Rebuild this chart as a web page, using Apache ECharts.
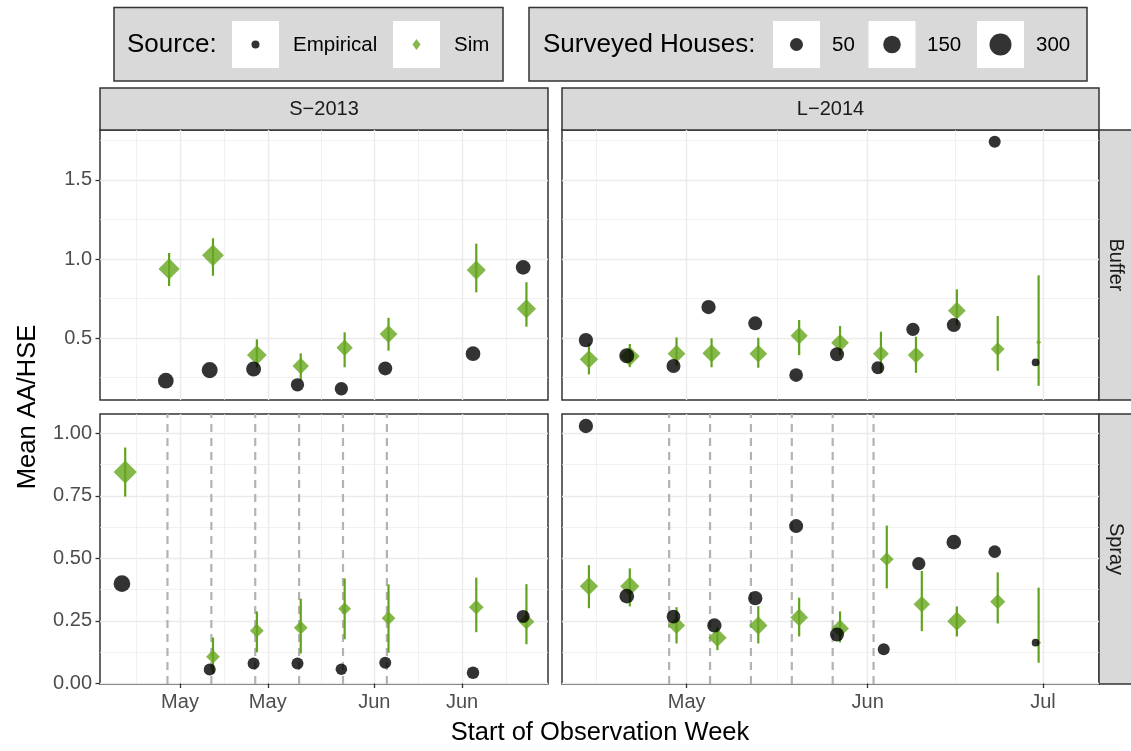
<!DOCTYPE html>
<html><head><meta charset="utf-8">
<script src="https://cdn.jsdelivr.net/npm/echarts@6/dist/echarts.min.js"></script>
<style>html,body{margin:0;padding:0;background:#fff}#c{width:1131px;height:751px}</style>
</head><body><div id="c"></div>
<script>
// ---------------- DATA ----------------
const columnNames = ['S\u22122013', 'L\u22122014'];
const rowNames = ['Buffer', 'Spray'];

// S-2013, Buffer
const s13BufDates = ['2013-04-29','2013-05-06','2013-05-13','2013-05-20','2013-05-27','2013-06-03','2013-06-17','2013-06-25'];
const s13BufEmp   = [0.230,0.297,0.304,0.204,0.179,0.308,0.401,0.947];
const s13BufSim   = [0.937,1.023,0.392,0.323,0.439,0.525,0.930,0.685];
const s13BufSimLo = [0.829,0.894,0.315,0.234,0.315,0.420,0.789,0.572];
const s13BufSimHi = [1.038,1.131,0.492,0.403,0.536,0.628,1.097,0.853];
const s13BufHouses = [103,110,87,55,55,67,81,81];

// S-2013, Spray
const s13SprDates = ['2013-04-22','2013-05-06','2013-05-13','2013-05-20','2013-05-27','2013-06-03','2013-06-17','2013-06-25'];
const s13SprEmp   = [0.399,0.056,0.080,0.080,0.057,0.083,0.043,0.268];
const s13SprSim   = [0.845,0.107,0.211,0.223,0.299,0.261,0.305,0.247];
const s13SprSimLo = [0.747,0.040,0.125,0.120,0.177,0.123,0.205,0.157];
const s13SprSimHi = [0.943,0.184,0.288,0.339,0.420,0.396,0.423,0.397];
const s13SprHouses = [127,35,35,35,29,35,42,50];
const s13SprayWeeks = ['2013-04-29','2013-05-06','2013-05-13','2013-05-20','2013-05-27','2013-06-03'];

// L-2014, Buffer
const l14BufDates = ['2014-04-14','2014-04-21','2014-04-29','2014-05-05','2014-05-13','2014-05-20','2014-05-27','2014-06-03','2014-06-09','2014-06-16','2014-06-23','2014-06-30'];
const l14BufEmp   = [0.487,0.388,0.323,0.696,0.593,0.266,0.397,0.312,0.555,0.582,1.742,0.346];
const l14BufSim   = [0.365,0.384,0.401,0.403,0.401,0.515,0.470,0.401,0.392,0.673,0.430,0.473];
const l14BufSimLo = [0.270,0.316,0.325,0.315,0.312,0.392,0.390,0.280,0.280,0.580,0.293,0.198];
const l14BufSimHi = [0.466,0.462,0.504,0.498,0.502,0.614,0.576,0.540,0.508,0.808,0.639,0.897];
const l14BufHouses = [73,87,67,73,67,62,67,50,55,67,35,1];

// L-2014, Spray
const l14SprDates = ['2014-04-14','2014-04-21','2014-04-29','2014-05-06','2014-05-13','2014-05-20','2014-05-27','2014-06-04','2014-06-10','2014-06-16','2014-06-23','2014-06-30'];
const l14SprEmp   = [1.029,0.349,0.267,0.232,0.341,0.629,0.196,0.137,0.479,0.565,0.527,0.163];
const l14SprSim   = [0.389,0.389,0.232,0.183,0.232,0.264,0.220,0.497,0.317,0.249,0.327,0.163];
const l14SprSimLo = [0.301,0.308,0.160,0.133,0.160,0.188,0.164,0.380,0.209,0.188,0.240,0.083];
const l14SprSimHi = [0.473,0.460,0.305,0.225,0.309,0.343,0.288,0.631,0.450,0.308,0.444,0.383];
const l14SprHouses = [73,81,62,73,73,67,67,35,55,81,45,1];
const l14SprayWeeks = ['2014-04-28','2014-05-05','2014-05-12','2014-05-19','2014-05-26','2014-06-02'];

// axes (x in day-of-year)
const s13XRange = [108.24, 179.7];
const l14XRange = [99.65, 191.6];
const s13XTicks = ['2013-05-01','2013-05-15','2013-06-01','2013-06-15'];
const s13XTickLabels = ['May','May','Jun','Jun'];
const l14XTicks = ['2014-05-01','2014-06-01','2014-07-01'];
const l14XTickLabels = ['May','Jun','Jul'];
const bufYRange = [0.108, 1.816];
const bufYTicks = [0.5, 1.0, 1.5];
const bufYTickLabels = ['0.5','1.0','1.5'];
const sprYRange = [-0.002, 1.077];
const sprYTicks = [0, 0.25, 0.5, 0.75, 1.0];
const sprYTickLabels = ['0.00','0.25','0.50','0.75','1.00'];

const legendHouses = [50, 150, 300];
const legendSources = ['Empirical', 'Sim'];

// ---------------- BUILD ----------------
const FONT = '"Liberation Sans", Arial, Helvetica, sans-serif';
const GREEN = '#66A61E';
const BAR_GREEN = '#60A31C';
const DODGE = 0.26;
function doy(s){ const d = new Date(s + 'T00:00:00Z'); return (d - Date.UTC(d.getUTCFullYear(),0,1))/86400000 + 1; }
function circleD(n){ return 6.8 + 0.878*Math.sqrt(n); }
function diamondD(n){ return 2.0*(circleD(n) - 5.1); }
function mids(t, r){
  const out = [t[0] - (t[1]-t[0])/2];
  for (let i=0;i<t.length-1;i++) out.push((t[i]+t[i+1])/2);
  out.push(t[t.length-1] + (t[t.length-1]-t[t.length-2])/2);
  return out.filter(v => v > r[0] && v < r[1]);
}

const panels = [
  {col:0,row:0,dates:s13BufDates,emp:s13BufEmp,sim:s13BufSim,lo:s13BufSimLo,hi:s13BufSimHi,n:s13BufHouses,spray:[]},
  {col:1,row:0,dates:l14BufDates,emp:l14BufEmp,sim:l14BufSim,lo:l14BufSimLo,hi:l14BufSimHi,n:l14BufHouses,spray:[]},
  {col:0,row:1,dates:s13SprDates,emp:s13SprEmp,sim:s13SprSim,lo:s13SprSimLo,hi:s13SprSimHi,n:s13SprHouses,spray:s13SprayWeeks},
  {col:1,row:1,dates:l14SprDates,emp:l14SprEmp,sim:l14SprSim,lo:l14SprSimLo,hi:l14SprSimHi,n:l14SprHouses,spray:l14SprayWeeks}
];
const colLayout = [{left:100,width:448},{left:562,width:537}];
const rowLayout = [{top:130,height:270},{top:414,height:270}];
const colX = [
  {range:s13XRange, ticks:s13XTicks.map(doy), labels:s13XTickLabels},
  {range:l14XRange, ticks:l14XTicks.map(doy), labels:l14XTickLabels}
];
const rowY = [
  {range:bufYRange, ticks:bufYTicks, labels:bufYTickLabels},
  {range:sprYRange, ticks:sprYTicks, labels:sprYTickLabels}
];

const grid = [], xAxis = [], yAxis = [], series = [];
const tickStyle = {color:'#333333', width:1.3};
const majorGrid = {color:'#ebebeb', width:1.4};
const minorGrid = {color:'#ebebeb', width:0.7};

panels.forEach((p, i) => {
  const cl = colLayout[p.col], rl = rowLayout[p.row];
  grid.push({left:cl.left, top:rl.top, width:cl.width, height:rl.height, show:true,
    backgroundColor:'#ffffff', borderColor:'#333333', borderWidth:1.5});
  const cx = colX[p.col], ry = rowY[p.row];
  const bottom = p.row === 1, leftCol = p.col === 0;
  xAxis.push({type:'value', gridIndex:i, min:cx.range[0], max:cx.range[1],
    axisLine:{show:false},
    axisTick:{show:bottom, customValues:cx.ticks, length:4.5, lineStyle:tickStyle},
    axisLabel:{show:bottom, customValues:cx.ticks, margin:8, color:'#4d4d4d', fontSize:20, fontFamily:FONT,
      formatter: v => cx.labels[cx.ticks.indexOf(v)]},
    splitLine:{show:true, lineStyle:majorGrid}});
  xAxis.push({type:'value', gridIndex:i, min:cx.range[0], max:cx.range[1],
    axisLine:{show:false}, axisTick:{show:false, customValues:mids(cx.ticks, cx.range)},
    axisLabel:{show:false, customValues:mids(cx.ticks, cx.range)},
    splitLine:{show:true, lineStyle:minorGrid}});
  yAxis.push({type:'value', gridIndex:i, min:ry.range[0], max:ry.range[1],
    axisLine:{show:false},
    axisTick:{show:leftCol, customValues:ry.ticks, length:4.5, lineStyle:tickStyle},
    axisLabel:{show:leftCol, customValues:ry.ticks, margin:8, color:'#4d4d4d', fontSize:20, fontFamily:FONT,
      formatter: v => ry.labels[ry.ticks.indexOf(v)]},
    splitLine:{show:true, lineStyle:majorGrid}});
  yAxis.push({type:'value', gridIndex:i, min:ry.range[0], max:ry.range[1],
    axisLine:{show:false}, axisTick:{show:false, customValues:mids(ry.ticks, ry.range)},
    axisLabel:{show:false, customValues:mids(ry.ticks, ry.range)},
    splitLine:{show:true, lineStyle:minorGrid}});
  const xi = 2*i, yi = 2*i;
  if (p.spray.length) {
    series.push({type:'custom', xAxisIndex:xi, yAxisIndex:yi, z:1, silent:true,
      data: p.spray.map(d => [doy(d), 0.5]), encode:{x:0, y:1},
      renderItem: (params, api) => {
        const cs = params.coordSys;
        const x = api.coord([api.value(0), api.value(1)])[0];
        return {type:'line', shape:{x1:x, y1:cs.y+cs.height, x2:x, y2:cs.y},
          style:{stroke:'#b3b3b3', lineWidth:2.2, lineDash:[8,6]}};
      }});
  }
  series.push({type:'custom', xAxisIndex:xi, yAxisIndex:yi, z:2, silent:true,
    data: p.dates.map((d,k) => [doy(d)+DODGE, p.lo[k], p.hi[k]]), encode:{x:0, y:[1,2]},
    renderItem: (params, api) => {
      const x = api.value(0);
      const a = api.coord([x, api.value(1)]), b = api.coord([x, api.value(2)]);
      return {type:'line', shape:{x1:a[0], y1:a[1], x2:b[0], y2:b[1]},
        style:{stroke:BAR_GREEN, lineWidth:2.2}};
    }});
  series.push({type:'scatter', name:'Sim', xAxisIndex:xi, yAxisIndex:yi, z:3, silent:true,
    symbol:'diamond', data: p.dates.map((d,k) => [doy(d)+DODGE, p.sim[k], p.n[k]]),
    symbolSize: v => diamondD(v[2]), itemStyle:{color:GREEN, opacity:0.8}});
  series.push({type:'scatter', name:'Empirical', xAxisIndex:xi, yAxisIndex:yi, z:4, silent:true,
    symbol:'circle', data: p.dates.map((d,k) => [doy(d)-DODGE, p.emp[k], p.n[k]]),
    symbolSize: v => circleD(v[2]), itemStyle:{color:'#000000', opacity:0.8}});
});

function txt(x, y, s, size, opts){
  return Object.assign({type:'text', x:x, y:y, silent:true,
    style:Object.assign({text:s, fontSize:size, fontFamily:FONT, fill:'#1a1a1a',
      align:'left', textAlign:'left', verticalAlign:'middle', textVerticalAlign:'middle'}, opts && opts.style || {})},
    opts && opts.el || {});
}
const graphic = [];
// strips
colLayout.forEach((c, j) => {
  graphic.push({type:'rect', shape:{x:c.left, y:88, width:c.width, height:42}, silent:true,
    style:{fill:'#d9d9d9', stroke:'#333333', lineWidth:1.5}});
  graphic.push(txt(c.left + c.width/2, 109, columnNames[j], 20, {style:{align:'center', textAlign:'center'}}));
});
rowLayout.forEach((r, j) => {
  graphic.push({type:'rect', shape:{x:1099, y:r.top, width:40, height:r.height}, silent:true,
    style:{fill:'#d9d9d9', stroke:'#333333', lineWidth:1.5}});
  graphic.push(txt(1116, r.top + r.height/2, rowNames[j], 20,
    {style:{align:'center', textAlign:'center'}, el:{rotation:-Math.PI/2}}));
});
// axis titles
graphic.push(txt(28, 407, 'Mean AA/HSE', 25.5, {style:{fill:'#000', align:'center', textAlign:'center'}, el:{rotation:Math.PI/2}}));
graphic.push(txt(600, 733, 'Start of Observation Week', 25.5, {style:{fill:'#000', align:'center', textAlign:'center'}}));
// legend 1: Source
graphic.push({type:'rect', shape:{x:114, y:7.5, width:389, height:73.5}, silent:true,
  style:{fill:'#d9d9d9', stroke:'#333333', lineWidth:1.5}});
graphic.push(txt(127, 45, 'Source:', 26, {style:{fill:'#000'}}));
const srcKeyX = [232, 393], srcLabX = [293, 454];
legendSources.forEach((s, j) => {
  graphic.push({type:'rect', shape:{x:srcKeyX[j], y:21, width:47, height:47}, silent:true, style:{fill:'#fff'}});
  graphic.push(txt(srcLabX[j], 45, s, 20.5, {style:{fill:'#000'}}));
});
graphic.push({type:'circle', shape:{cx:srcKeyX[0]+23.5, cy:44.5, r:4}, silent:true, style:{fill:'#000', opacity:0.8}});
graphic.push({type:'polygon', shape:{points:[[srcKeyX[1]+23.5,39],[srcKeyX[1]+27.5,44.5],[srcKeyX[1]+23.5,50],[srcKeyX[1]+19.5,44.5]]},
  silent:true, style:{fill:GREEN, opacity:0.8}});
// legend 2: Surveyed Houses
graphic.push({type:'rect', shape:{x:529, y:7.5, width:558, height:73.5}, silent:true,
  style:{fill:'#d9d9d9', stroke:'#333333', lineWidth:1.5}});
graphic.push(txt(543, 45, 'Surveyed Houses:', 26, {style:{fill:'#000'}}));
const hKeyX = [773, 868.5, 977], hLabX = [832, 927, 1036];
legendHouses.forEach((h, j) => {
  graphic.push({type:'rect', shape:{x:hKeyX[j], y:21, width:47, height:47}, silent:true, style:{fill:'#fff'}});
  graphic.push({type:'circle', shape:{cx:hKeyX[j]+23.5, cy:44.5, r:circleD(h)/2}, silent:true, style:{fill:'#000', opacity:0.8}});
  graphic.push(txt(hLabX[j], 45, String(h), 20.5, {style:{fill:'#000'}}));
});

const chart = echarts.init(document.getElementById('c'), null, {renderer:'canvas'});
chart.setOption({animation:false, backgroundColor:'#ffffff', grid, xAxis, yAxis, series, graphic});
</script></body></html>
